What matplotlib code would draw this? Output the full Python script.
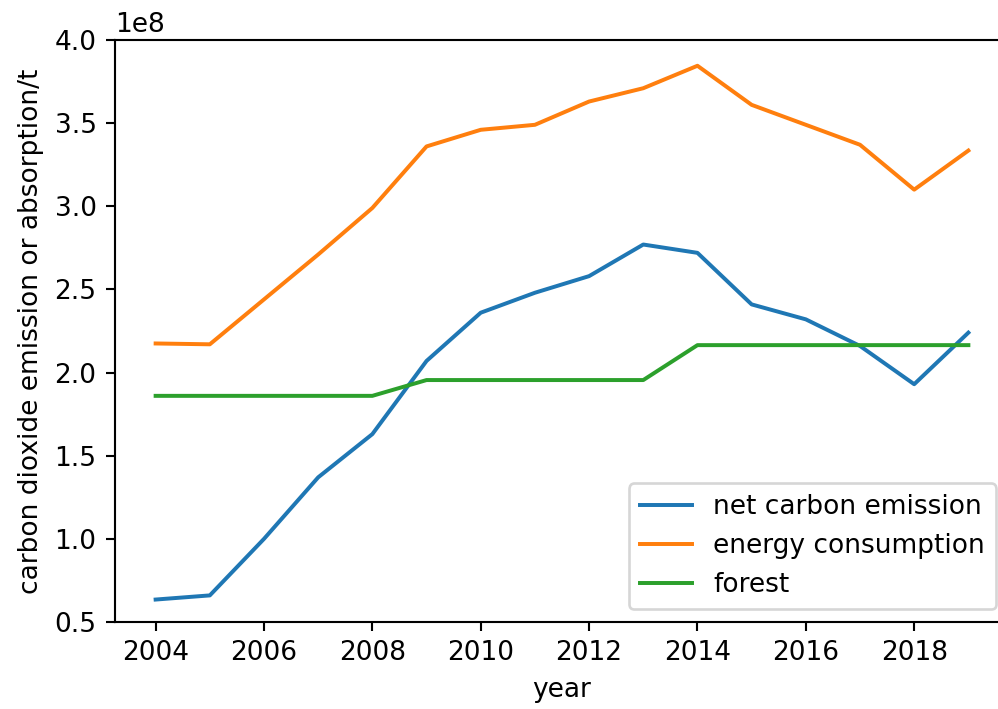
import matplotlib
matplotlib.use("Agg")
import matplotlib.pyplot as plt
import numpy as np

years = list(range(2004, 2020))
# tonnes, in units of 1e8
net_emission = [0.635, 0.66, 1.0, 1.37, 1.63, 2.07, 2.36, 2.48, 2.58, 2.77, 2.72, 2.41, 2.32, 2.16, 1.93, 2.24]
energy = [2.175, 2.17, 2.44, 2.71, 2.99, 3.36, 3.46, 3.49, 3.63, 3.71, 3.845, 3.61, 3.49, 3.37, 3.10, 3.335]
forest = [1.86, 1.86, 1.86, 1.86, 1.86, 1.955, 1.955, 1.955, 1.955, 1.955, 2.165, 2.165, 2.165, 2.165, 2.165, 2.165]

dpi = 190
fig = plt.figure(figsize=(999 / dpi, 709 / dpi), dpi=dpi)
ax = fig.add_axes([115 / 999, 1 - 622 / 709, (1009 - 115) / 999, (622 - 40) / 709])

ax.plot(years, np.array(net_emission) * 1e8, label="net carbon emission")
ax.plot(years, np.array(energy) * 1e8, label="energy consumption")
ax.plot(years, np.array(forest) * 1e8, label="forest")

ax.set_ylim(0.5e8, 4.0e8)
ax.set_xlabel("year")
ax.set_ylabel("carbon dioxide emission or absorption/t")
ax.legend(loc="lower right")

fig.savefig("out.png", dpi=dpi)
